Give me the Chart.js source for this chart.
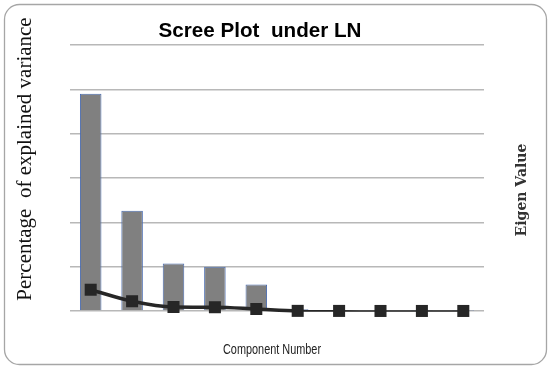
<!DOCTYPE html>
<html>
<head>
<meta charset="utf-8">
<script src="https://cdn.jsdelivr.net/npm/chart.js@4/dist/chart.umd.min.js"></script>
<style>
  body { margin: 0; background: #fff; }
  canvas { display: block; }
</style>
</head>
<body>
<canvas id="chart-area" width="550" height="371"></canvas>
<script>
// component numbers on the x axis (labels not shown in the picture)
var components = ['1', '2', '3', '4', '5', '6', '7', '8', '9', '10'];
// percentage of explained variance (bars)
var percentVariance = [49.0, 22.6, 10.7, 10.0, 6.0, 0.4, 0.1, 0.1, 0.05, 0.05];
// eigen values (line)
var eigenValues = [4.8, 2.2, 0.9, 0.85, 0.45, 0.03, 0.02, 0.01, 0.01, 0.01];
// y axis range, gridline every step
var yMin = 0, yMax = 60, yStep = 10;

var titleText = 'Scree Plot  under LN';
var xTitle = 'Component Number';
var yTitle = 'Percentage  of explained variance';
var y2Title = 'Eigen Value';

// draws text squeezed to a given width (condensed look)
function narrowText(ctx, text, x, y, width) {
	var w = ctx.measureText(text).width;
	ctx.save();
	ctx.translate(x, y);
	ctx.scale(Math.min(1, width / w), 1);
	ctx.fillText(text, 0, 0);
	ctx.restore();
}

// frame + texts drawn around the plot
var decorPlugin = {
	id: 'decor',
	beforeDraw: function(chart) {
		var ctx = chart.ctx;
		ctx.save();
		ctx.fillStyle = '#fff';
		ctx.fillRect(0, 0, chart.width, chart.height);
		// rounded outer frame
		ctx.strokeStyle = '#a6a6a6';
		ctx.lineWidth = 1.3;
		ctx.beginPath();
		ctx.roundRect(4.5, 4.5, 542, 360, 15);
		ctx.stroke();
		ctx.restore();
	},
	afterDraw: function(chart) {
		var ctx = chart.ctx;
		var a = chart.chartArea;
		ctx.save();
		ctx.fillStyle = '#000';
		ctx.textAlign = 'center';
		ctx.textBaseline = 'alphabetic';
		ctx.font = 'bold 21px "Liberation Sans", Arial, sans-serif';
		narrowText(ctx, titleText, a.left + 190, a.top - 8.5, 203);

		ctx.fillStyle = '#222';
		ctx.textBaseline = 'middle';
		ctx.font = '15px "Liberation Sans", Arial, sans-serif';
		narrowText(ctx, xTitle, a.left + 202, a.bottom + 39, 98);

		// left label
		ctx.fillStyle = '#111';
		ctx.save();
		ctx.translate(25, 159);
		ctx.rotate(-Math.PI / 2);
		ctx.font = '21px "Liberation Serif", "Times New Roman", serif';
		ctx.fillText(yTitle, 0, 0);
		ctx.restore();

		// right label
		ctx.save();
		ctx.translate(522, 190);
		ctx.rotate(-Math.PI / 2);
		ctx.fillStyle = '#333';
		ctx.font = '600 14px "DejaVu Serif", serif';
		ctx.fillText(y2Title, 0, 0);
		ctx.restore();
		ctx.restore();
	}
};

var config = {
	type: 'bar',
	data: {
		labels: components,
		datasets: [{
			type: 'line',
			label: 'Eigen Value',
			data: eigenValues,
			yAxisID: 'y1',
			order: 0,
			clip: false,
			borderColor: '#262626',
			backgroundColor: '#262626',
			cubicInterpolationMode: 'monotone',
			segment: {
				borderWidth: function(c) { return c.p0DataIndex < 5 ? 3.5 : 1.6; }
			},
			borderWidth: 3.5,
			pointStyle: 'rect',
			pointRadius: 8.5,
			pointBorderWidth: 0,
			fill: false
		}, {
			type: 'bar',
			label: 'Percentage of explained variance',
			data: percentVariance,
			yAxisID: 'y',
			order: 1,
			backgroundColor: '#808080',
			borderColor: '#4a6cb0',
			borderWidth: 1,
			barPercentage: 0.52,
			categoryPercentage: 1
		}]
	},
	options: {
		responsive: false,
		animation: false,
		layout: {
			padding: { left: 70, right: 66, top: 45, bottom: 60 }
		},
		plugins: {
			legend: { display: false },
			title: { display: false },
			tooltip: { enabled: false }
		},
		scales: {
			x: {
				display: false
			},
			y: {
				min: yMin,
				max: yMax,
				ticks: { display: false, stepSize: yStep },
				border: { display: false },
				grid: { color: '#b8b8b8', lineWidth: 1.4, drawTicks: false },
				afterFit: function(s) { s.width = 0; }
			},
			y1: {
				display: false,
				position: 'right',
				min: yMin,
				max: yMax
			}
		}
	},
	plugins: [decorPlugin]
};

window.onload = function() {
	var ctx = document.getElementById('chart-area').getContext('2d');
	window.myScree = new Chart(ctx, config);
};
</script>
</body>
</html>
